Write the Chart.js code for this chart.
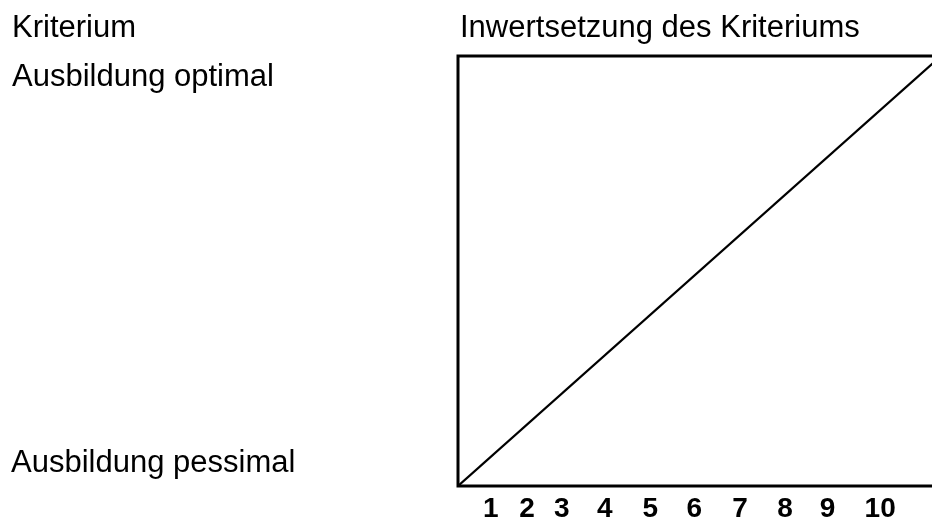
<!DOCTYPE html>
<html>
<head>
<meta charset="utf-8">
<script src="https://cdn.jsdelivr.net/npm/chart.js@4"></script>
<style>
  html, body { margin: 0; padding: 0; background: #fff; overflow: hidden; }
  #wrap { position: relative; width: 932px; height: 521px; overflow: hidden; }
  canvas { position: absolute; left: 0; top: 0; }
  .txt { position: absolute; font-family: "Liberation Sans", Arial, sans-serif; font-size: 31px; color: #000; white-space: nowrap; line-height: 1; }
</style>
</head>
<body>
<div id="wrap">
  <canvas id="chart" width="950" height="521"></canvas>
  <div class="txt" style="left:12px; top:11px;">Kriterium</div>
  <div class="txt" style="left:12px; top:60px;">Ausbildung optimal</div>
  <div class="txt" style="left:11px; top:446px;">Ausbildung pessimal</div>
  <div class="txt" style="left:460px; top:11px;">Inwertsetzung des Kriteriums</div>
</div>
<script>
// criterion values shown under the box
const tickLabels = ["1", "2", "3", "4", "5", "6", "7", "8", "9", "10"];
const tickValues = [0.68, 1.43, 2.15, 3.04, 3.98, 4.89, 5.84, 6.77, 7.65, 8.74];

// diagonal: pessimal (bottom left) to optimal (top right)
const lineX = [0, 10];
const lineY = [0, 10];

const boxPlugin = {
    id: "box",
    afterDraw(chart) {
        const a = chart.chartArea;
        const ctx = chart.ctx;
        ctx.save();
        ctx.strokeStyle = "#000";
        ctx.lineWidth = 3;
        ctx.strokeRect(a.left, a.top, a.right - a.left, a.bottom - a.top);
        ctx.restore();
    }
};

new Chart(
    document.getElementById("chart"),
    {
        type: "line",
        data: {
            datasets: [{
                data: lineX.map((x, i) => ({ x: x, y: lineY[i] })),
                borderColor: "#000",
                borderWidth: 2.2,
                pointRadius: 0,
                tension: 0
            }]
        },
        options: {
            responsive: false,
            animation: false,
            layout: { padding: { left: 458, top: 56, right: 9, bottom: 0 } },
            plugins: { legend: { display: false }, tooltip: { enabled: false } },
            scales: {
                x: {
                    type: "linear",
                    min: 0,
                    max: 10,
                    grid: { display: false, drawTicks: false },
                    border: { display: false },
                    afterFit(scale) { scale.height = 35; },
                    afterBuildTicks(scale) {
                        scale.ticks = tickValues.map(v => ({ value: v }));
                    },
                    ticks: {
                        autoSkip: false,
                        maxRotation: 0,
                        padding: 6,
                        color: "#000",
                        font: { family: "Liberation Sans", size: 28, weight: "bold" },
                        callback: (v, i) => tickLabels[i]
                    }
                },
                y: {
                    display: false,
                    min: 0,
                    max: 10
                }
            }
        },
        plugins: [boxPlugin]
    }
);
</script>
</body>
</html>
